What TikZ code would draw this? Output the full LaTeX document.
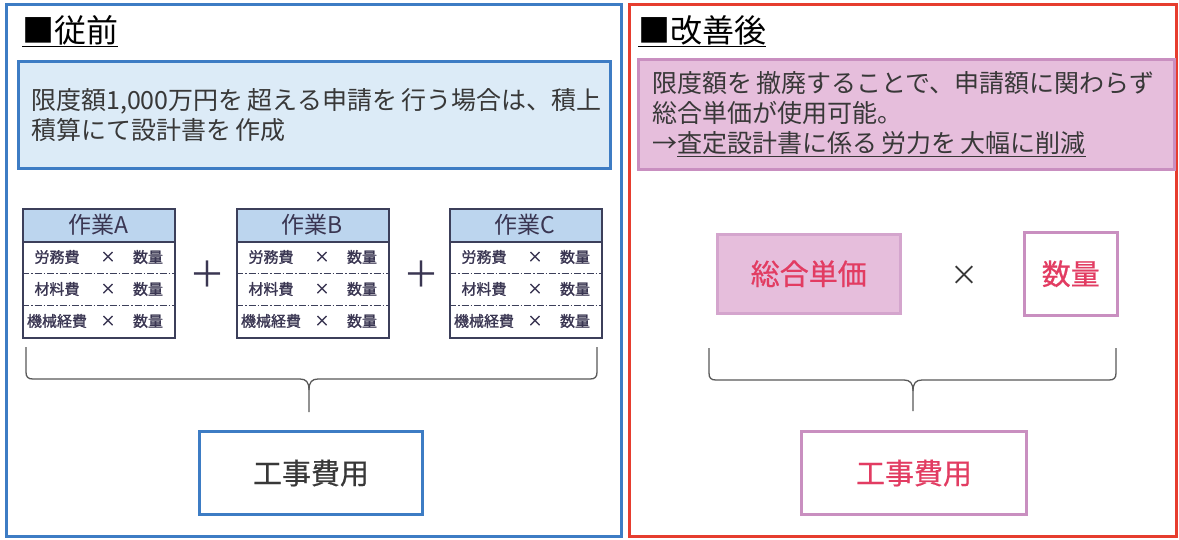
\documentclass[tikz,border=0pt]{standalone}
\usepackage{fontspec}
\setmainfont{Noto Sans CJK JP}
\newfontfamily\jpbold[FakeBold=1.3]{Noto Sans CJK JP}
\newfontfamily\jpmed[FakeBold=0.6]{Noto Sans CJK JP}
\definecolor{bluel}{HTML}{3D7CC4}
\definecolor{redl}{HTML}{E63D2E}
\definecolor{lbfill}{HTML}{DCEBF7}
\definecolor{hdfill}{HTML}{BCD5EE}
\definecolor{tabline}{HTML}{3C3F5A}
\definecolor{pkfill}{HTML}{E6BEDC}
\definecolor{pkline}{HTML}{C98FC0}
\definecolor{pktext}{HTML}{E23C62}
\definecolor{dtext}{HTML}{383838}
\definecolor{ntext}{HTML}{3A3652}
\begin{document}
\begin{tikzpicture}[x=1pt,y=-1pt,
  every node/.style={inner sep=0pt},
  titletext/.style={anchor=base west, font=\fontsize{32}{36}\selectfont, text=black},
  descbox/.style={anchor=north west, draw, line width=2.5pt, align=left, inner xsep=13pt,
     font=\fontsize{25}{30}\selectfont, text=dtext},
  hdbox/.style={anchor=north west, draw=tabline, fill=hdfill, line width=1.5pt,
     minimum width=152pt, minimum height=33pt},
  bodybox/.style={anchor=north west, draw=tabline, fill=white, line width=1.5pt,
     minimum width=152pt, minimum height=96pt},
  hdtext/.style={font=\fontsize{23}{25}\selectfont, text=ntext},
  rowtext/.style={font=\jpbold\fontsize{15}{17}\selectfont, text=ntext},
  sep/.style={draw=tabline, line width=1pt, dash pattern=on 7pt off 2pt on 1.5pt off 2pt},
  bracepath/.style={draw=black!65, line width=1.3pt},
  resbox/.style={draw, line width=3pt, fill=white, font=\jpmed\fontsize{29}{32}\selectfont},
  bigtext/.style={font=\jpmed\fontsize{29}{32}\selectfont}
]
\useasboundingbox (0,0) rectangle (1179,539);
\fill[white] (0,0) rectangle (1179,539);

% outer frames
\draw[bluel, line width=3pt] (6,4) rectangle (621,536);
\draw[redl, line width=3pt] (629,4) rectangle (1176,536);

% ---------------- left: before ----------------
\node[titletext] (t1) at (22,42) {\underline{■従前}};
\node[descbox, draw=bluel, fill=lbfill, minimum width=592pt, minimum height=107pt,
      text width=566pt] (d1) at (17,60)
  {限度額1,000万円を\,超える申請を\,行う場合は、積上\\積算にて設計書を\,作成};

\foreach \x/\L in {22/A,236/B,449/C}{
  \node[hdbox] (h\L) at (\x,208) {};
  \node[bodybox] (b\L) at (\x,241) {};
  \node[hdtext] (ht\L) at (\x+76,224.5) {作業\L};
  \draw[sep] (\x,273) -- (\x+152,273);
  \draw[sep] (\x,305) -- (\x+152,305);
  \node[rowtext] (r1\L) at (\x+35,257) {労務費};
  \node[rowtext] (r2\L) at (\x+35,289) {材料費};
  \node[rowtext] (r3\L) at (\x+35,321) {機械経費};
  \node[rowtext] (x1\L) at (\x+86,257) {×};
  \node[rowtext] (x2\L) at (\x+86,289) {×};
  \node[rowtext] (x3\L) at (\x+86,321) {×};
  \node[rowtext] (q1\L) at (\x+126,257) {数量};
  \node[rowtext] (q2\L) at (\x+126,289) {数量};
  \node[rowtext] (q3\L) at (\x+126,321) {数量};
}
\node[font=\fontsize{36}{38}\selectfont, text=ntext] (p1) at (207.5,274) {＋};
\node[font=\fontsize{36}{38}\selectfont, text=ntext] (p2) at (421,274) {＋};

% brace left
\draw[bracepath] (26,347) -- (26,372) .. controls (26,377) and (28,379) .. (33,379)
  -- (300,379) .. controls (306,379) and (309,382) .. (309,390) -- (309,412);
\draw[bracepath] (309,390) .. controls (309,382) and (312,379) .. (318,379)
  -- (590,379) .. controls (595,379) and (597,377) .. (597,372) -- (597,347);

\node[resbox, draw=bluel, text=dtext, anchor=north west, minimum width=223pt,
      minimum height=83pt] (cost1) at (198,430) {工事費用};

% ---------------- right: after ----------------
\node[titletext] (t2) at (638,42) {\underline{■改善後}};
\node[descbox, draw=pkline, fill=pkfill, minimum width=534pt, minimum height=110pt,
      text width=508pt, inner xsep=14pt] (d2) at (637,58)
  {限度額を\,撤廃することで、申請額に関わらず\\総合単価が使用可能。\\→\underline{査定設計書に係る\,労力を\,大幅に削減}};

\node[draw=pkline!80, fill=pkfill, line width=2.5pt, anchor=north west,
      minimum width=183pt, minimum height=79pt, bigtext, text=pktext] (u1) at (716,233) {総合単価};
\node[font=\fontsize{28}{30}\selectfont, text=dtext] (mul) at (964,276) {×};
\node[draw=pkline, fill=white, line width=2.5pt, anchor=north west,
      minimum width=93pt, minimum height=83pt, bigtext, text=pktext] (u2) at (1023,231) {数量};

% brace right
\draw[bracepath] (709,348) -- (709,373) .. controls (709,378) and (711,380) .. (716,380)
  -- (904,380) .. controls (910,380) and (913,383) .. (913,391) -- (913,411);
\draw[bracepath] (913,391) .. controls (913,383) and (916,380) .. (922,380)
  -- (1109,380) .. controls (1114,380) and (1116,378) .. (1116,373) -- (1116,348);

\node[resbox, draw=pkline, text=pktext, anchor=north west, minimum width=225pt,
      minimum height=83pt] (cost2) at (800,430) {工事費用};
\end{tikzpicture}
\end{document}
